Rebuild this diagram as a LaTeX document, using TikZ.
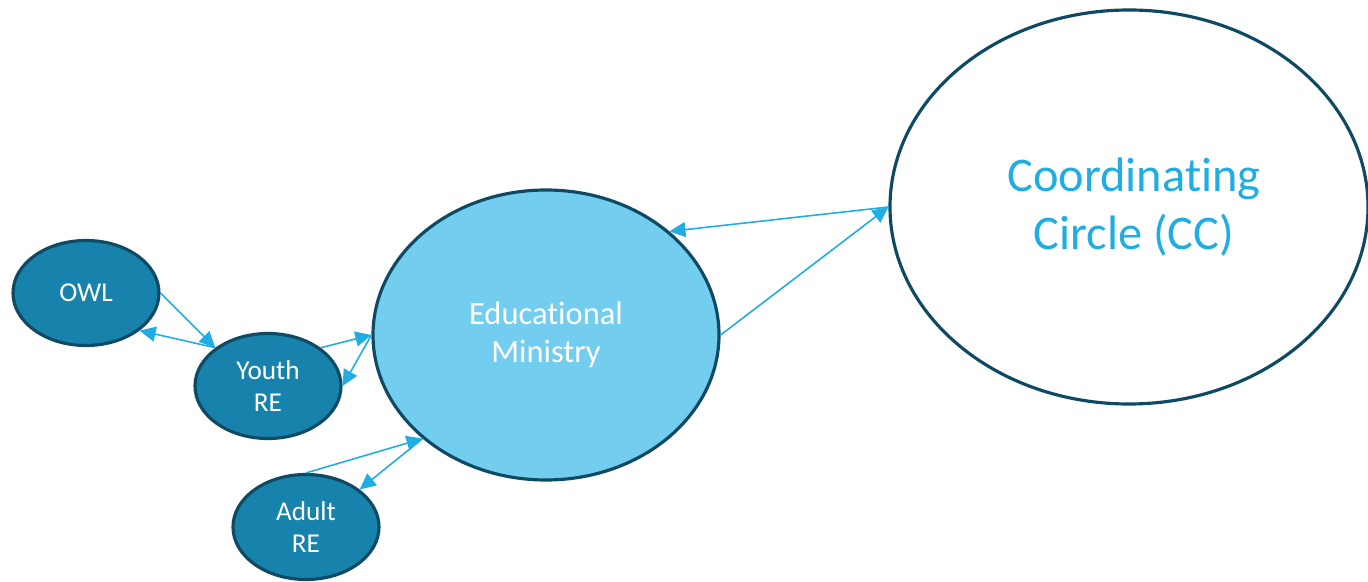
\documentclass[tikz,border=0pt]{standalone}
\usepackage{fontspec}
\setmainfont{Carlito}[Ligatures={NoCommon}]
\usetikzlibrary{shapes.geometric,arrows.meta}
\definecolor{rimblue}{HTML}{0E4A63}
\definecolor{deepblue}{HTML}{1782AB}
\definecolor{paleblue}{HTML}{73CDEE}
\definecolor{linkblue}{HTML}{1FADE3}
\tikzset{
    group/.style={ellipse, draw=rimblue, line width=1.8pt, inner sep=0pt, align=center},
    smallgroup/.style={group, fill=deepblue, text=white, minimum width=2.92cm, minimum height=2.1cm,
        font=\fontsize{15.5}{18.5}\selectfont},
    link/.style={draw=linkblue, line width=0.9pt, -{Triangle[length=3.2mm,width=3mm]}}
}
\begin{document}
\begin{tikzpicture}
            \useasboundingbox (0,0) rectangle (27.36,-11.64);
            % groups
            \node[smallgroup] (owl) at (1.72,-5.86) {OWL};
            \node[smallgroup] (youth) at (5.36,-7.72) {Youth\\RE};
            \node[smallgroup] (adult) at (6.12,-10.54) {Adult\\RE};
            \node[group, fill=paleblue, text=white, minimum width=6.92cm, minimum height=5.8cm,
                font=\fontsize{18.5}{21.5}\selectfont] (edu) at (10.92,-6.70) {Educational\\Ministry};
            \node[group, fill=white, text=linkblue, minimum width=9.56cm, minimum height=7.88cm,
                font=\fontsize{27.5}{33}\selectfont] (cc) at (22.58,-4.14) {\hspace*{0.2cm}Coordinating\\\hspace*{0.2cm}Circle (CC)};
            % links
            \draw[link] (owl.east) -- (youth.144);
            \draw[link] (youth.144) -- (owl.-35);
            \draw[link] (youth.36) -- (edu.180);
            \draw[link] (edu.180) -- (youth.east);
            \draw[link] (adult.north) -- (edu.220);
            \draw[link] (edu.220) -- (adult.35);
            \draw[link] (cc.west) -- (edu.40);
            \draw[link] (edu.east) -- (cc.west);
        \end{tikzpicture}
\end{document}
